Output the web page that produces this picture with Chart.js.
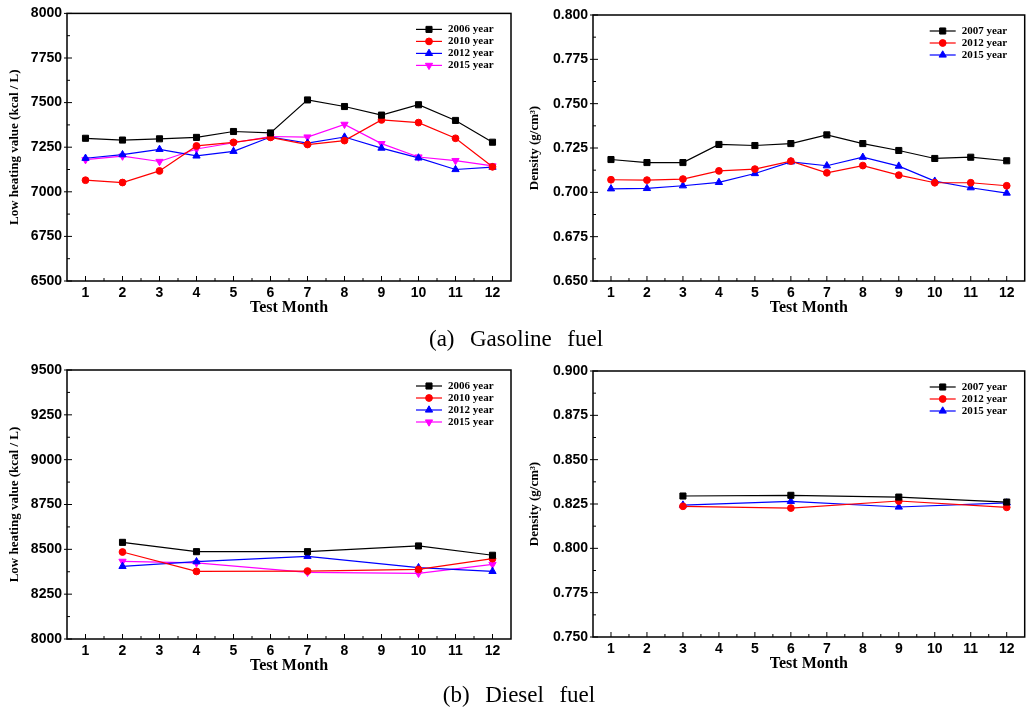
<!DOCTYPE html>
<html>
<head>
<meta charset="utf-8">
<script src="https://cdn.jsdelivr.net/npm/chart.js@4/dist/chart.umd.min.js"></script>
<style>
  html, body { margin: 0; padding: 0; background: #fff; }
  #wrap { position: relative; width: 1030px; height: 709px; overflow: hidden; }
  .panel { position: absolute; }
  .caption { position: absolute; font-family: "Liberation Serif", "DejaVu Serif", serif; font-size: 23px; word-spacing: 2px; white-space: pre; color: #000; transform: translate(-50%, -50%); }
</style>
</head>
<body>
<div id="wrap">
  <canvas id="gasLhv" class="panel" width="520" height="330" style="left:0;top:0"></canvas>
  <canvas id="gasDen" class="panel" width="510" height="330" style="left:520px;top:0"></canvas>
  <canvas id="dieLhv" class="panel" width="520" height="330" style="left:0;top:355px"></canvas>
  <canvas id="dieDen" class="panel" width="510" height="330" style="left:520px;top:355px"></canvas>
  <div class="caption" style="left:516px;top:339px">(a)  Gasoline  fuel</div>
  <div class="caption" style="left:519px;top:695px">(b)  Diesel  fuel</div>
</div>
<script>
// --- Données ---
const months = ['1', '2', '3', '4', '5', '6', '7', '8', '9', '10', '11', '12'];

// (a) essence - pouvoir calorifique inférieur (kcal/L)
const gasLhv2006 = [7300, 7290, 7297, 7305, 7338, 7330, 7515, 7478, 7430, 7488, 7400, 7278];
const gasLhv2010 = [7065, 7052, 7117, 7257, 7277, 7305, 7265, 7287, 7403, 7388, 7300, 7140];
const gasLhv2012 = [7188, 7208, 7238, 7201, 7227, 7307, 7273, 7307, 7245, 7190, 7125, 7138];
const gasLhv2015 = [7180, 7200, 7170, 7240, 7275, 7310, 7307, 7378, 7270, 7195, 7175, 7145];

// (a) essence - densité (g/cm3)
const gasDen2007 = [0.7185, 0.7168, 0.7168, 0.7270, 0.7264, 0.7275, 0.7324, 0.7275, 0.7236, 0.7191, 0.7198, 0.7178];
const gasDen2012 = [0.7071, 0.7069, 0.7075, 0.7121, 0.7131, 0.7176, 0.7110, 0.7151, 0.7097, 0.7054, 0.7054, 0.7037];
const gasDen2015 = [0.7020, 0.7022, 0.7037, 0.7056, 0.7106, 0.7172, 0.7150, 0.7198, 0.7148, 0.7063, 0.7026, 0.6996];

// (b) diesel - pouvoir calorifique inférieur (kcal/L)
const dieLhv2006 = [null, 8539, null, 8487, null, null, 8487, null, null, 8519, null, 8467];
const dieLhv2010 = [null, 8485, null, 8377, null, null, 8379, null, null, 8388, null, 8448];
const dieLhv2012 = [null, 8405, null, 8431, null, null, 8461, null, null, 8398, null, 8377];
const dieLhv2015 = [null, 8433, null, 8424, null, null, 8372, null, null, 8366, null, 8416];

// (b) diesel - densité (g/cm3)
const dieDen2007 = [null, null, 0.8295, null, null, 0.8299, null, null, 0.8289, null, null, 0.8261];
const dieDen2012 = [null, null, 0.8237, null, null, 0.8227, null, null, 0.8267, null, null, 0.8231];
const dieDen2015 = [null, null, 0.8244, null, null, 0.8265, null, null, 0.8233, null, null, 0.8256];

const BLACK = '#000000', RED = '#ff0000', BLUE = '#0000ff', MAGENTA = '#ff00ff';
const SERIF = '"Liberation Serif", "DejaVu Serif", serif';
const SANS = '"Liberation Sans", Arial, sans-serif';

function serie(label, data, color, style, radius, rotation) {
    return {
        label, data,
        borderColor: color,
        backgroundColor: color,
        pointBackgroundColor: color,
        pointBorderColor: color,
        pointStyle: style,
        pointRadius: radius,
        pointRotation: rotation || 0,
        pointBorderWidth: 1,
        borderWidth: 1.2,
        spanGaps: true,
        tension: 0
    };
}

// Cadre, graduations internes et légende façon Origin
const originFrame = {
    id: 'originFrame',
    afterDraw(chart) {
        const { ctx, chartArea: a, scales: { x, y } } = chart;
        ctx.save();
        ctx.strokeStyle = '#000';
        ctx.lineWidth = 1.5;
        ctx.strokeRect(a.left, a.top, a.right - a.left, a.bottom - a.top);

        ctx.lineWidth = 1;
        ctx.beginPath();
        const step = x.getPixelForTick(1) - x.getPixelForTick(0);
        x.ticks.forEach((t, i) => {
            const px = x.getPixelForTick(i);
            ctx.moveTo(px, a.bottom); ctx.lineTo(px, a.bottom - 5);
            if (i < x.ticks.length - 1) {
                ctx.moveTo(px + step / 2, a.bottom); ctx.lineTo(px + step / 2, a.bottom - 3);
            }
        });
        const yStep = y.ticks.length > 1 ? y.ticks[1].value - y.ticks[0].value : 0;
        y.ticks.forEach(t => {
            const py = y.getPixelForValue(t.value);
            ctx.moveTo(a.left - 3, py); ctx.lineTo(a.left + 5, py);
            if (t.value + yStep / 2 < y.max) {
                const pm = y.getPixelForValue(t.value + yStep / 2);
                ctx.moveTo(a.left, pm); ctx.lineTo(a.left + 3, pm);
            }
        });
        ctx.stroke();

        // légende
        chart.data.datasets.forEach((ds, i) => {
            const yy = a.top + 16 + 12 * i;
            ctx.strokeStyle = ds.borderColor;
            ctx.lineWidth = 1.2;
            ctx.beginPath();
            ctx.moveTo(a.right - 95, yy); ctx.lineTo(a.right - 69, yy);
            ctx.stroke();
            ctx.fillStyle = ds.pointBackgroundColor;
            ctx.lineWidth = 1;
            Chart.helpers.drawPoint(ctx, {
                pointStyle: ds.pointStyle, radius: ds.pointRadius,
                rotation: ds.pointRotation, borderWidth: 1
            }, a.right - 82, yy);
            ctx.fillStyle = '#000';
            ctx.font = 'bold 11px ' + SERIF;
            ctx.textBaseline = 'middle';
            ctx.textAlign = 'left';
            ctx.fillText(ds.label, a.right - 63, yy);
        });
        ctx.restore();
    }
};

function makeChart(id, datasets, yMin, yMax, yStepSize, yTitle, area, decimals) {
    const canvas = document.getElementById(id);
    const W = canvas.width, H = canvas.height;
    const xH = 39;
    return new Chart(canvas, {
        type: 'line',
        data: { labels: months, datasets },
        options: {
            responsive: false,
            animation: false,
            layout: { padding: { top: area.t, right: W - area.r, bottom: H - area.b - xH, left: 0 } },
            plugins: { legend: { display: false }, tooltip: { enabled: false } },
            scales: {
                x: {
                    type: 'category',
                    offset: true,
                    grid: { display: false, drawTicks: false },
                    border: { display: false },
                    ticks: { color: '#000', font: { family: SANS, size: 14, weight: 'bold' }, padding: 4, autoSkip: false, maxRotation: 0 },
                    title: { display: true, text: 'Test Month', color: '#000', font: { family: SERIF, size: 16, weight: 'bold' }, padding: { top: 0, bottom: 3 } },
                    afterFit: s => { s.height = xH; }
                },
                y: {
                    min: yMin, max: yMax,
                    grid: { display: false, drawTicks: false },
                    border: { display: false },
                    ticks: {
                        stepSize: yStepSize, color: '#000', padding: 5,
                        font: { family: SANS, size: 14, weight: 'bold' },
                        callback: v => decimals ? v.toFixed(decimals) : v
                    },
                    title: { display: true, text: yTitle, color: '#000', font: { family: SERIF, size: 13, weight: 'bold' }, padding: { top: 7, bottom: 0 } },
                    afterFit: s => { s.width = area.l; }
                }
            }
        },
        plugins: [originFrame]
    });
}

makeChart('gasLhv', [
    serie('2006 year', gasLhv2006, BLACK, 'rect', 4.3),
    serie('2010 year', gasLhv2010, RED, 'circle', 3.4),
    serie('2012 year', gasLhv2012, BLUE, 'triangle', 4.2),
    serie('2015 year', gasLhv2015, MAGENTA, 'triangle', 4.2, 180)
], 6500, 8000, 250, 'Low heating value (kcal / L)', { l: 67, t: 12, r: 511, b: 281 }, 0);

makeChart('gasDen', [
    serie('2007 year', gasDen2007, BLACK, 'rect', 4.3),
    serie('2012 year', gasDen2012, RED, 'circle', 3.4),
    serie('2015 year', gasDen2015, BLUE, 'triangle', 4.2)
], 0.65, 0.8, 0.025, 'Density (g/cm\u00b3)', { l: 73, t: 15, r: 509, b: 281 }, 3);

makeChart('dieLhv', [
    serie('2006 year', dieLhv2006, BLACK, 'rect', 4.3),
    serie('2010 year', dieLhv2010, RED, 'circle', 3.4),
    serie('2012 year', dieLhv2012, BLUE, 'triangle', 4.2),
    serie('2015 year', dieLhv2015, MAGENTA, 'triangle', 4.2, 180)
], 8000, 9500, 250, 'Low heating value (kcal / L)', { l: 67, t: 15, r: 511, b: 284 }, 0);

makeChart('dieDen', [
    serie('2007 year', dieDen2007, BLACK, 'rect', 4.3),
    serie('2012 year', dieDen2012, RED, 'circle', 3.4),
    serie('2015 year', dieDen2015, BLUE, 'triangle', 4.2)
], 0.75, 0.9, 0.025, 'Density (g/cm\u00b3)', { l: 73, t: 16, r: 509, b: 282 }, 3);
</script>
</body>
</html>
